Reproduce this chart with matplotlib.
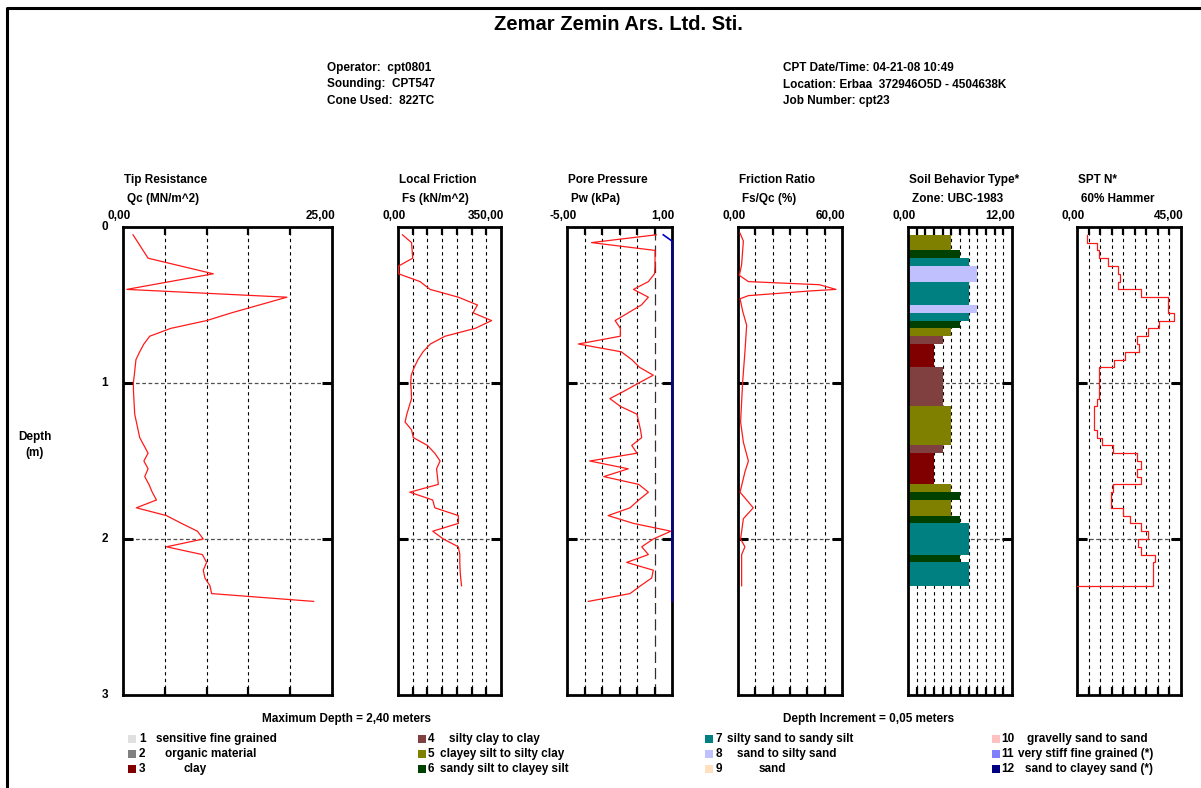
import numpy as np
import matplotlib
matplotlib.use("Agg")
import matplotlib.pyplot as plt
from matplotlib.lines import Line2D
from matplotlib.patches import Rectangle

plt.rcParams['font.family'] = ['Liberation Sans', 'DejaVu Sans']
plt.rcParams['font.weight'] = 'bold'
FS = 8.5

# ---------------------------------------------------------------- data
DEPTH_INCREMENT = 0.05
MAX_DEPTH = 2.40

# Tip resistance Qc (MN/m^2), 0.05 .. 2.40 m
qc = [1.2, 1.8, 2.4, 3.0, 6.9, 10.8, 5.6, 0.45, 19.6, 16.3,
      13.0, 10.0, 5.7, 3.2, 2.5, 2.0, 1.55, 1.45, 1.35, 1.24,
      1.25, 1.3, 1.35, 1.4, 1.6, 1.8, 2.0, 2.5, 3.0, 2.5,
      3.0, 2.6, 3.1, 3.5, 4.0, 1.6, 5.2, 7.0, 8.9, 9.6,
      5.2, 9.5, 10.0, 9.6, 9.8, 10.4, 10.6, 22.8]

# Local friction Fs (kN/m^2), 0.05 .. 2.30 m
fs = [15, 46, 48, 50, 2, 2, 75, 109, 205, 270,
      255, 318, 262, 160, 110, 85, 68, 55, 45, 43,
      45, 46, 38, 30, 24, 46, 52, 100, 125, 143,
      131, 134, 137, 40, 118, 125, 205, 205, 118, 154,
      205, 210, 210, 211, 213, 216]

# Pore pressure Pw (kPa), 0.05 .. 2.40 m
pw = [0.10, -3.60, 0.03, 0.03, 0.03, 0.00, -0.35, -1.20, -0.35, -0.75,
      -1.50, -2.25, -1.95, -1.95, -4.35, -1.90, -1.30, -0.85, -0.07, -0.90,
      -1.70, -2.55, -1.95, -1.00, -0.90, -0.80, -0.73, -1.30, -1.00, -3.70,
      -1.50, -2.90, -0.90, -0.35, -0.90, -1.40, -2.65, -1.20, 0.94, -0.07,
      -0.73, -0.35, -1.59, -0.07, -0.16, -0.80, -1.40, -3.78]

# Reference pore pressure line (kPa)
u0_depth = [0.05, 0.09, 2.40]
u0 = [0.5, 1.0, 1.0]

# Friction ratio Rf (%)
rf_depth = [0.04, 0.09, 0.24, 0.31, 0.35, 0.37, 0.40, 0.41, 0.44, 0.46,
            0.54, 0.63, 0.80, 0.99, 1.25, 1.38, 1.50, 1.57, 1.70, 1.80,
            1.87, 2.00, 2.05, 2.10, 2.30]
rf = [1.2, 3.1, 2.1, 0.8, 6.0, 47.0, 56.5, 41.5, 6.0, 1.2,
      2.7, 5.0, 4.0, 2.7, 1.5, 3.1, 6.0, 4.0, 1.2, 8.8,
      3.1, 1.5, 4.0, 2.1, 2.1]

# Soil behaviour type zone per 0.05 m interval, 0.05 .. 2.25 m (top of interval)
sbt_zone = [5, 5, 6, 7, 8, 8, 7, 7, 7, 8,
            7, 6, 5, 4, 3, 3, 3, 4, 4, 4,
            4, 4, 5, 5, 5, 5, 5, 4, 3, 3,
            3, 3, 5, 6, 5, 5, 6, 7, 7, 7,
            7, 6, 7, 7, 7]

# SPT N (60% hammer) per 0.05 m interval, 0.05 .. 2.25 m (top of interval)
spt_n = [4.5, 8.5, 9.5, 13.5, 17.9, 18.6, 17.9, 27.7, 39.5, 39.5,
         42.0, 35.6, 30.9, 25.8, 27.0, 20.8, 16.2, 9.7, 9.7, 9.7,
         9.7, 8.5, 7.5, 7.5, 7.5, 8.5, 11.0, 15.7, 25.8, 27.7,
         25.8, 27.7, 15.7, 14.7, 14.7, 20.0, 22.9, 27.7, 30.9, 26.5,
         27.7, 33.7, 32.7, 32.7, 32.7]

zone_names = ["sensitive fine grained", "organic material", "clay",
              "silty clay to clay", "clayey silt to silty clay",
              "sandy silt to clayey silt", "silty sand to sandy silt",
              "sand to silty sand", "sand", "gravelly sand to sand",
              "very stiff fine grained (*)", "sand to clayey sand (*)"]
zone_colors = ["#e0e0e0", "#808080", "#800000", "#804040", "#808000",
               "#004000", "#008080", "#c0c0ff", "#ffe0c0", "#ffc0c0",
               "#8080ff", "#000080"]

header_left = ["Operator:  cpt0801", "Sounding:  CPT547", "Cone Used:  822TC"]
header_right = ["CPT Date/Time: 04-21-08 10:49",
                "Location: Erbaa  372946O5D - 4504638K",
                "Job Number: cpt23"]

panel_titles = ["Tip Resistance", "Local Friction", "Pore Pressure",
                "Friction Ratio", "Soil Behavior Type*", "SPT N*"]
panel_units = ["Qc (MN/m^2)", "Fs (kN/m^2)", "Pw (kPa)",
               "Fs/Qc (%)", "Zone: UBC-1983", "60% Hammer"]
panel_ranges = [(0, 25), (0, 350), (-5, 1), (0, 60), (0, 12), (0, 45)]
panel_divisions = [5, 7, 6, 6, 12, 9]
range_labels = [("0,00", "25,00"), ("0,00", "350,00"), ("-5,00", "1,00"),
                ("0,00", "60,00"), ("0,00", "12,00"), ("0,00", "45,00")]

# ---------------------------------------------------------------- layout
W, H, DPI = 1201, 788, 100
fig = plt.figure(figsize=(W / DPI, H / DPI), dpi=DPI)
fig.patch.set_facecolor("white")

TOP_PX, BOT_PX = 227, 695
panel_px = [(123, 332), (398, 501), (567, 672), (738, 842), (908, 1012), (1077, 1181)]


def ftext(x, y, s, **kw):
    kw.setdefault("fontsize", FS)
    kw.setdefault("va", "center")
    kw.setdefault("fontweight", "bold")
    return fig.text(x / W, 1 - y / H, s, **kw)


# page frame (left and top edges)
fig.add_artist(Line2D([7 / W, 7 / W, 1.0], [0.0, 1 - 8 / H, 1 - 8 / H],
                      transform=fig.transFigure, color="black", lw=2.2))

ftext(618, 24, "Zemar Zemin Ars. Ltd. Sti.", fontsize=14.5, ha="center")
for i, s in enumerate(header_left):
    ftext(327, 68 + i * 16.5, s)
for i, s in enumerate(header_right):
    ftext(783, 68 + i * 16.5, s)

axes = []
for k, (x0, x1) in enumerate(panel_px):
    ax = fig.add_axes([x0 / W, 1 - BOT_PX / H, (x1 - x0) / W, (BOT_PX - TOP_PX) / H])
    lo, hi = panel_ranges[k]
    ax.set_xlim(lo, hi)
    ax.set_ylim(3, 0)
    ticks = np.linspace(lo, hi, panel_divisions[k] + 1)[1:-1]
    ax.set_xticks(ticks)
    ax.set_yticks([1, 2])
    ax.tick_params(axis="x", direction="in", length=6, width=1.6, top=True, bottom=True,
                   labelbottom=False, labeltop=False, color="black")
    ax.tick_params(axis="y", direction="in", length=7, width=2.2, left=True, right=True,
                   labelleft=False, color="black")
    for sp in ax.spines.values():
        sp.set_linewidth(2.0)
    for t in ticks:
        if k == 2 and abs(t) < 1e-9:
            ax.axvline(t, color="#303030", lw=0.9, ls=(0, (9, 4)), zorder=1)
        else:
            ax.axvline(t, color="black", lw=0.8, ls=(0, (3, 3)), zorder=1)
    for d in (1, 2):
        ax.axhline(d, color="#505050", lw=0.9, ls=(0, (3, 2)), zorder=1)
    axes.append(ax)

    ftext(x0 + 1, 180, panel_titles[k])
    ftext(x0 + 4, 199, panel_units[k])
    ftext(x0 - 4, 216, range_labels[k][0], ha="center")
    ftext(x1 + 3, 216, range_labels[k][1], ha="right")

# depth scale
for d in range(4):
    ftext(105, TOP_PX + d * (BOT_PX - TOP_PX) / 3, str(d), ha="center")
ftext(35, 437, "Depth", ha="center")
ftext(35, 453, "(m)", ha="center")

red = "#ff1a1a"
depth_qc = DEPTH_INCREMENT * np.arange(1, len(qc) + 1)
depth_fs = DEPTH_INCREMENT * np.arange(1, len(fs) + 1)
depth_pw = DEPTH_INCREMENT * np.arange(1, len(pw) + 1)
depth_int = DEPTH_INCREMENT * np.arange(1, len(sbt_zone) + 1)

axes[0].plot(qc, depth_qc, color=red, lw=0.9, zorder=3)
axes[1].plot(fs, depth_fs, color=red, lw=0.9, zorder=3)
axes[2].plot(pw, depth_pw, color=red, lw=0.9, zorder=3)
axes[2].plot(u0, u0_depth, color="#0000cc", lw=1.2, zorder=3, clip_on=False)
axes[3].plot(rf, rf_depth, color=red, lw=0.9, zorder=3)

# soil behaviour type bars
axes[4].barh(depth_int + DEPTH_INCREMENT / 2, sbt_zone, height=DEPTH_INCREMENT,
             color=[zone_colors[z - 1] for z in sbt_zone], edgecolor="none", zorder=2)

# SPT N as a stepped profile
spt_x = np.repeat(spt_n, 2)
spt_y = np.column_stack([depth_int, depth_int + DEPTH_INCREMENT]).ravel()
spt_x = np.append(spt_x, 0)
spt_y = np.append(spt_y, spt_y[-1])
axes[5].plot(spt_x, spt_y, color=red, lw=0.9, zorder=3)

# footer
ftext(346, 719, "Maximum Depth = %s meters" % ("%.2f" % MAX_DEPTH).replace(".", ","), ha="center")
ftext(869, 719, "Depth Increment = %s meters" % ("%.2f" % DEPTH_INCREMENT).replace(".", ","), ha="center")

legend_cols = [(128, 139), (418, 428), (705, 716), (992, 1001)]
legend_label_x = [156, 165, 183, 449, 440, 440, 727, 737, 759, 1027, 1018, 1025]
row_y = [739, 754, 769]
for i, name in enumerate(zone_names):
    col, row = divmod(i, 3)
    sx, nx = legend_cols[col]
    y = row_y[row]
    fig.add_artist(Rectangle((sx / W, 1 - (y + 4) / H), 8 / W, 8 / H,
                             transform=fig.transFigure, facecolor=zone_colors[i],
                             edgecolor="none"))
    ftext(nx, y, str(i + 1))
    ftext(legend_label_x[i], y, name)

fig.savefig("out.png", dpi=DPI, facecolor="white")
